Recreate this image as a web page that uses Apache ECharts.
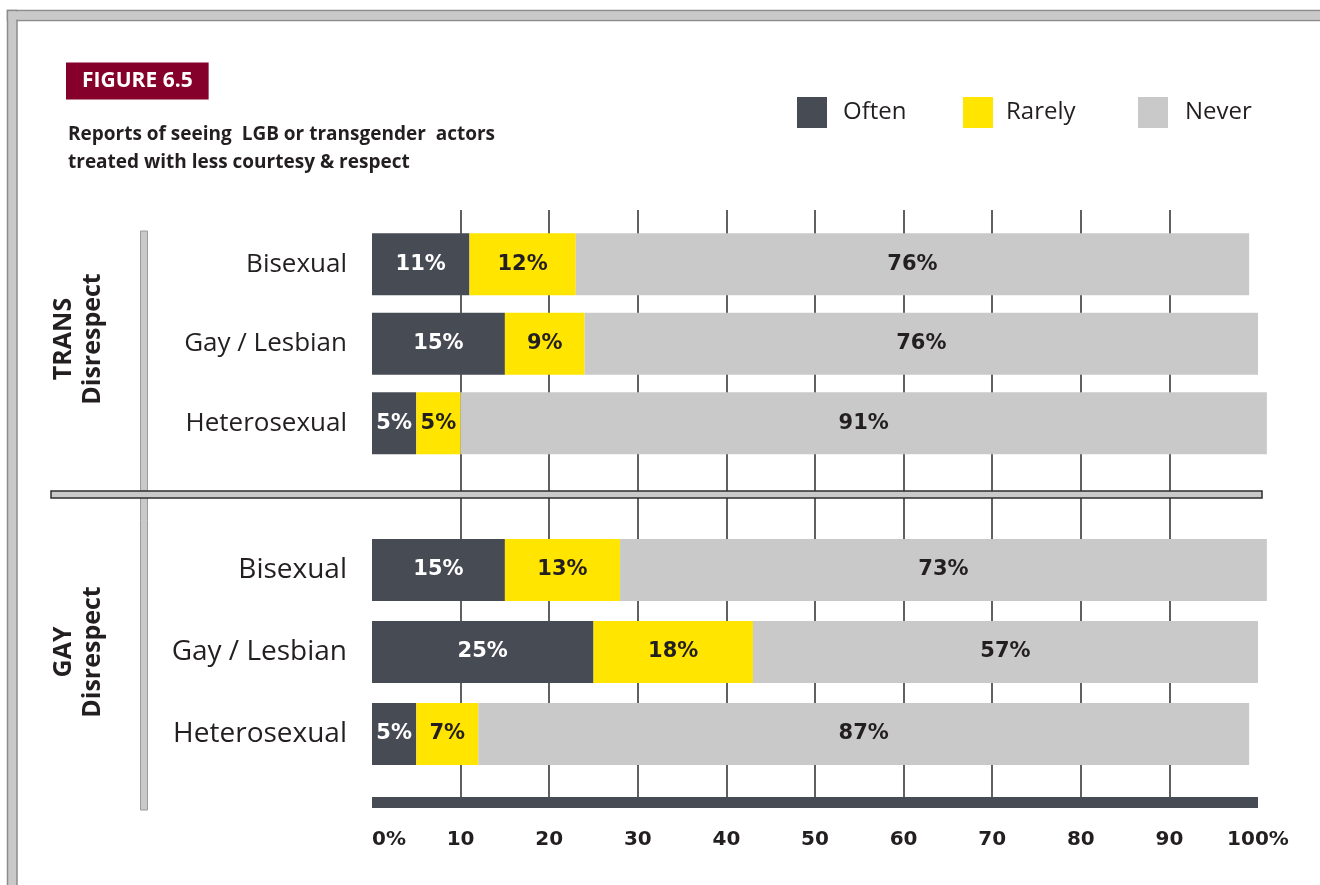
<!DOCTYPE html>
<html>
<head>
<meta charset="utf-8">
<title>Figure 6.5</title>
<script src="https://cdn.jsdelivr.net/npm/echarts@6/dist/echarts.min.js"></script>
<style>
  html, body { margin: 0; padding: 0; background: #fff; }
  #main { width: 1320px; height: 885px; }
</style>
</head>
<body>
<div id="main"></div>
<script>
// categories, top to bottom
const categories = ['Bisexual', 'Gay / Lesbian', 'Heterosexual'];

// TRANS disrespect (%)
const transOften = [11, 15, 5];
const transRarely = [12, 9, 5];
const transNever = [76, 76, 91];

// GAY disrespect (%)
const gayOften = [15, 25, 5];
const gayRarely = [13, 18, 7];
const gayNever = [73, 57, 87];

const legendNames = ['Often', 'Rarely', 'Never'];
const colors = ['#474b54', '#ffe500', '#c8c9c8'];

const FONT = '"Open Sans", "Noto Sans", sans-serif';
const NUMFONT = '"DejaVu Sans", sans-serif';
const INK = '#231f20';

let chart = echarts.init(document.getElementById('main'));

// x positions of the plot: 0% at 372, 100% at 1258
const gridLeft = 372, gridRight = 1320 - 1258;

function lineAxis(gridIndex, withLabels) {
  return {
    type: 'value', gridIndex: gridIndex, min: 0, max: 100, interval: 10,
    axisTick: { show: false },
    axisLine: { show: withLabels, onZero: false, lineStyle: { color: '#474b54', width: 11, cap: 'butt' } },
    splitLine: {
      show: true, showMinLine: false, showMaxLine: false,
      lineStyle: { color: '#2b2b2b', width: 1.5 }
    },
    axisLabel: {
      show: withLabels, margin: 28, fontSize: 20, fontFamily: NUMFONT, fontWeight: 'bold', color: INK,
      alignMinLabel: 'left',
      formatter: function (v) { return (v === 0 || v === 100) ? v + '%' : String(v); }
    }
  };
}

function barAxis(gridIndex) {
  return { type: 'value', gridIndex: gridIndex, min: 0, max: 100, show: false };
}

function catAxis(gridIndex, size) {
  return {
    type: 'category', gridIndex: gridIndex, data: categories, inverse: true,
    axisLine: { show: false }, axisTick: { show: false }, splitLine: { show: false },
    axisLabel: { margin: 25, fontSize: size, fontFamily: FONT, fontWeight: 500, color: INK }
  };
}

function barSeries(name, data, idx, stack, lblColor) {
  return {
    type: 'bar', name: name, data: data, stack: stack,
    xAxisIndex: idx, yAxisIndex: idx, barWidth: 62, clip: false,
    itemStyle: { color: colors[legendNames.indexOf(name)] },
    label: {
      show: true, position: 'inside', formatter: '{c}%',
      fontSize: 21, fontWeight: 'bold', fontFamily: NUMFONT, color: lblColor
    }
  };
}

function legendAt(name, left, gap) {
  return {
    data: [name], left: left, top: 97, padding: 0, orient: 'horizontal',
    icon: 'rect', itemWidth: 30, itemHeight: 31, selectedMode: false,
    textStyle: { fontSize: 24, fontFamily: FONT, fontWeight: 500, color: INK, padding: [4, 0, 0, gap] }
  };
}

const option = {
  backgroundColor: '#fff',
  animation: false,
  title: [
    {
      text: 'FIGURE 6.5', left: 66, top: 63,
      backgroundColor: '#85002a', padding: [8, 16, 8, 16],
      textStyle: { color: '#fff', fontSize: 21, fontWeight: 'bold', fontFamily: FONT, lineHeight: 20 }
    },
    {
      text: 'Reports of seeing  LGB or transgender  actors\ntreated with less courtesy & respect',
      left: 68, top: 121, padding: 0,
      textStyle: { color: INK, fontSize: 19, fontWeight: 'bold', fontFamily: FONT, lineHeight: 28 }
    }
  ],
  legend: [
    legendAt('Often', 797, 11),
    legendAt('Rarely', 963, 8),
    legendAt('Never', 1138, 12)
  ],
  grid: [
    // gridline areas
    { left: gridLeft, right: gridRight, top: 210, height: 281 },
    { left: gridLeft, right: gridRight, top: 498, height: 304 },
    // bar areas
    { left: gridLeft, right: gridRight, top: 224.5, height: 238.5 },
    { left: gridLeft, right: gridRight, top: 529, height: 246 }
  ],
  xAxis: [lineAxis(0, false), lineAxis(1, true), barAxis(2), barAxis(3)],
  yAxis: [
    { type: 'value', gridIndex: 0, show: false },
    { type: 'value', gridIndex: 1, show: false },
    catAxis(2, 26),
    catAxis(3, 28)
  ],
  series: [
    barSeries('Often', transOften, 2, 'trans', '#fff'),
    barSeries('Rarely', transRarely, 2, 'trans', INK),
    barSeries('Never', transNever, 2, 'trans', INK),
    barSeries('Often', gayOften, 3, 'gay', '#fff'),
    barSeries('Rarely', gayRarely, 3, 'gay', INK),
    barSeries('Never', gayNever, 3, 'gay', INK)
  ],
  graphic: [
    // frame: top and left bands (right and bottom run off the page)
    { type: 'rect', silent: true, z: 10, shape: { x: 7.5, y: 10.5, width: 1400, height: 10 },
      style: { fill: '#c8c9c8', stroke: '#8c8c8c', lineWidth: 1.5 } },
    { type: 'rect', silent: true, z: 10, shape: { x: 7.5, y: 10.5, width: 9.5, height: 1000 },
      style: { fill: '#c8c9c8', stroke: '#8c8c8c', lineWidth: 1.5 } },
    { type: 'rect', silent: true, z: 11, shape: { x: 8.5, y: 11.5, width: 1400, height: 8 },
      style: { fill: '#c8c9c8' } },
    // vertical divider
    { type: 'rect', silent: true, z: 10, shape: { x: 140.5, y: 231, width: 7, height: 579 },
      style: { fill: '#c8c9c8', stroke: '#9a9a9a', lineWidth: 1 } },
    // horizontal divider between groups
    { type: 'rect', silent: true, z: 12, shape: { x: 51, y: 491, width: 1211, height: 7 },
      style: { fill: '#c8c9c8', stroke: '#2e2e2e', lineWidth: 1.5 } },
    // group titles
    { type: 'text', silent: true, z: 12, x: 78, y: 339, rotation: Math.PI / 2,
      style: { text: 'TRANS\nDisrespect', align: 'center', verticalAlign: 'middle',
        font: 'bold 25px ' + FONT, fill: INK, lineHeight: 29 } },
    { type: 'text', silent: true, z: 12, x: 78, y: 652, rotation: Math.PI / 2,
      style: { text: 'GAY\nDisrespect', align: 'center', verticalAlign: 'middle',
        font: 'bold 25px ' + FONT, fill: INK, lineHeight: 29 } }
  ]
};

chart.setOption(option);
</script>
</body>
</html>
